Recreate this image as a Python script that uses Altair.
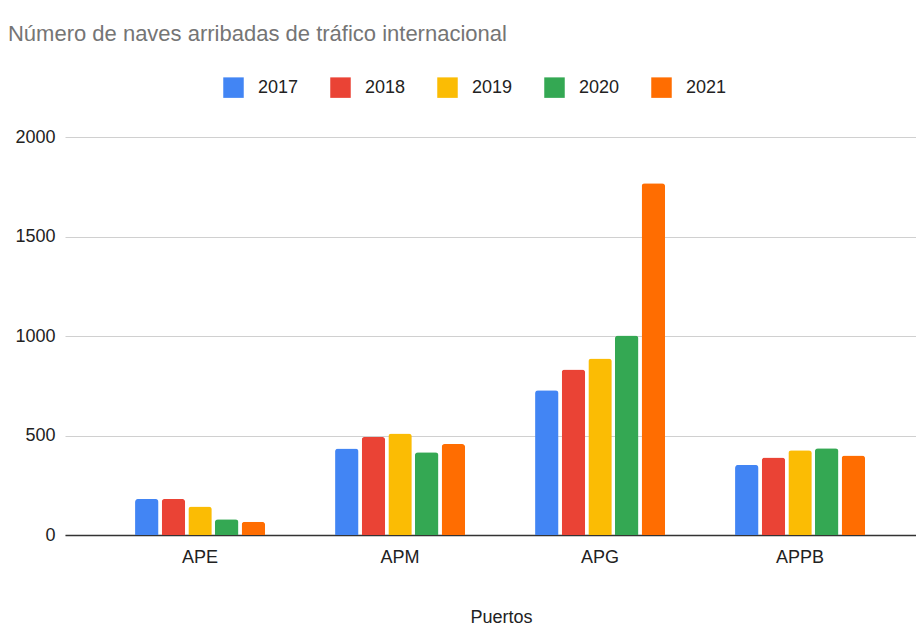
import altair as alt
import pandas as pd

puertos = ["APE", "APM", "APG", "APPB"]
years = ["2017", "2018", "2019", "2020", "2021"]
v2017 = [181, 435, 728, 352]
v2018 = [181, 493, 832, 389]
v2019 = [143, 510, 887, 426]
v2020 = [79, 416, 1003, 436]
v2021 = [67, 457, 1767, 399]
colors = ["#4285F4", "#EA4335", "#FBBC04", "#34A853", "#FF6D01"]

series = [v2017, v2018, v2019, v2020, v2021]
rows = []
for y, vals in zip(years, series):
    for p, v in zip(puertos, vals):
        rows.append({"Puertos": p, "Año": y, "Valor": v})
df = pd.DataFrame(rows)

FONT = "Liberation Sans, Arial, sans-serif"

chart = alt.Chart(df).mark_bar(
    cornerRadiusTopLeft=3, cornerRadiusTopRight=3
).encode(
    x=alt.X("Puertos:N", sort=puertos,
            scale=alt.Scale(paddingInner=0.35, paddingOuter=0.3025, align=0.579),
            axis=alt.Axis(title="Puertos", labelAngle=0, ticks=False,
                          labelPadding=13, titlePadding=42, titleX=436,
                          domainColor="#333333", domainWidth=1.5)),
    xOffset=alt.XOffset("Año:N", sort=years, scale=alt.Scale(paddingInner=0.12)),
    y=alt.Y("Valor:Q", scale=alt.Scale(domain=[0, 2000]),
            axis=alt.Axis(title=None, values=[0, 500, 1000, 1500, 2000], format="d",
                          ticks=False, domain=False, labelPadding=10,
                          gridColor="#d0d0d0")),
    color=alt.Color("Año:N", sort=years,
                    scale=alt.Scale(domain=years, range=colors),
                    legend=alt.Legend(title=None, orient="none", direction="horizontal",
                                      legendX=158, legendY=-60,
                                      symbolType="square", symbolSize=420,
                                      symbolStrokeWidth=0, symbolOpacity=1,
                                      labelOffset=14, columnPadding=31,
                                      labelFontSize=18, labelColor="#222222",
                                      labelFont=FONT)),
).properties(
    width=851, height=398,
    title=alt.TitleParams("Número de naves arribadas de tráfico internacional",
                          anchor="start", dx=-7, fontSize=22, fontWeight="normal",
                          color="#757575", font=FONT, offset=31),
    autosize=alt.AutoSizeParams(type="none"),
    padding={"left": 57, "top": 129, "right": 0, "bottom": 90},
).configure_axis(
    labelFont=FONT, titleFont=FONT, labelFontSize=18, titleFontSize=18,
    labelColor="#222222", titleColor="#222222", titleFontWeight="normal",
).configure_view(stroke=None)

chart.save("out.html", embed_options={"renderer": "svg", "actions": False})
